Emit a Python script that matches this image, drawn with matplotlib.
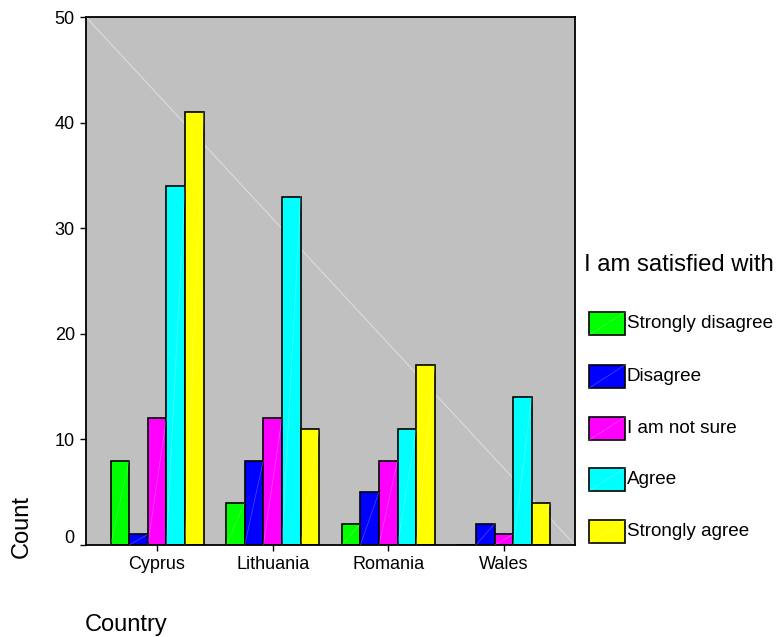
import numpy as np
import matplotlib.pyplot as plt
import matplotlib.transforms as mtransforms
from matplotlib.patches import Rectangle

plt.rcParams['font.family'] = ['Liberation Sans', 'DejaVu Sans']

countries = ['Cyprus', 'Lithuania', 'Romania', 'Wales']
answers = ['Strongly disagree', 'Disagree', 'I am not sure', 'Agree', 'Strongly agree']
colors = ['#00ff00', '#0000ff', '#ff00ff', '#00ffff', '#ffff00']
strongly_disagree = [8, 4, 2, 0]
disagree = [1, 8, 5, 2]
not_sure = [12, 12, 8, 1]
agree = [34, 33, 11, 14]
strongly_agree = [41, 11, 17, 4]
series = [strongly_disagree, disagree, not_sure, agree, strongly_agree]

fig = plt.figure(figsize=(7.78, 6.37), dpi=100)
ax = fig.add_axes([0.1105, 0.1444, 0.6285, 0.8289])
ax.set_facecolor('#c0c0c0')

x = np.arange(len(countries))
w = 0.161
# faint diagonal across plot area
ax.plot([0, 1], [1, 0], transform=ax.transAxes, color='#dcdcdc', lw=0.8, zorder=1)

for k, vals in enumerate(series):
    xs = x + (k - 2) * w
    ax.bar(xs, vals, width=w, color=colors[k], edgecolor='black', linewidth=1.2, zorder=2)
    for xi, v in zip(xs, vals):
        if v > 0:
            ax.plot([xi - w / 2, xi + w / 2], [0, v], color='white', alpha=0.3, lw=0.5, zorder=3)

ax.set_xlim(-0.615, 3.615)
ax.set_ylim(0, 50)
ax.set_yticks([0, 10, 20, 30, 40, 50])
ax.set_xticks(x)
ax.set_xticklabels(countries)
ax.tick_params(axis='both', labelsize=13, length=4.5, width=1, color='black')
for s in ax.spines.values():
    s.set_linewidth(1.3)

# the zero label sits a bit above the axis in the original
lbl0 = ax.get_yticklabels()[0]
lbl0.set_transform(lbl0.get_transform() + mtransforms.ScaledTranslation(0, 6 / 72, fig.dpi_scale_trans))

fig.text(0.028, 0.173, 'Count', rotation=90, fontsize=17, ha='center', va='center')
fig.text(0.109, 1 - 625 / 637, 'Country', fontsize=17, ha='left', va='center')

# legend
fig.text(584 / 778, 1 - 265 / 637, 'I am satisfied with', fontsize=17.2, ha='left', va='center')
tops = [312, 365, 417, 468, 520]
for k, lab in enumerate(answers):
    y0 = 1 - (tops[k] + 23) / 637
    rect = Rectangle((589 / 778, y0), 36 / 778, 23 / 637, transform=fig.transFigure,
                     facecolor=colors[k], edgecolor='black', linewidth=1.2)
    fig.patches.append(rect)
    fig.lines.append(plt.Line2D([589 / 778, 625 / 778], [y0, y0 + 23 / 637], transform=fig.transFigure,
                                color='white', alpha=0.3, lw=0.5))
    fig.text(627 / 778, y0 + 11.5 / 637, lab, fontsize=13.6, ha='left', va='center')

plt.savefig('out.png', dpi=100)
